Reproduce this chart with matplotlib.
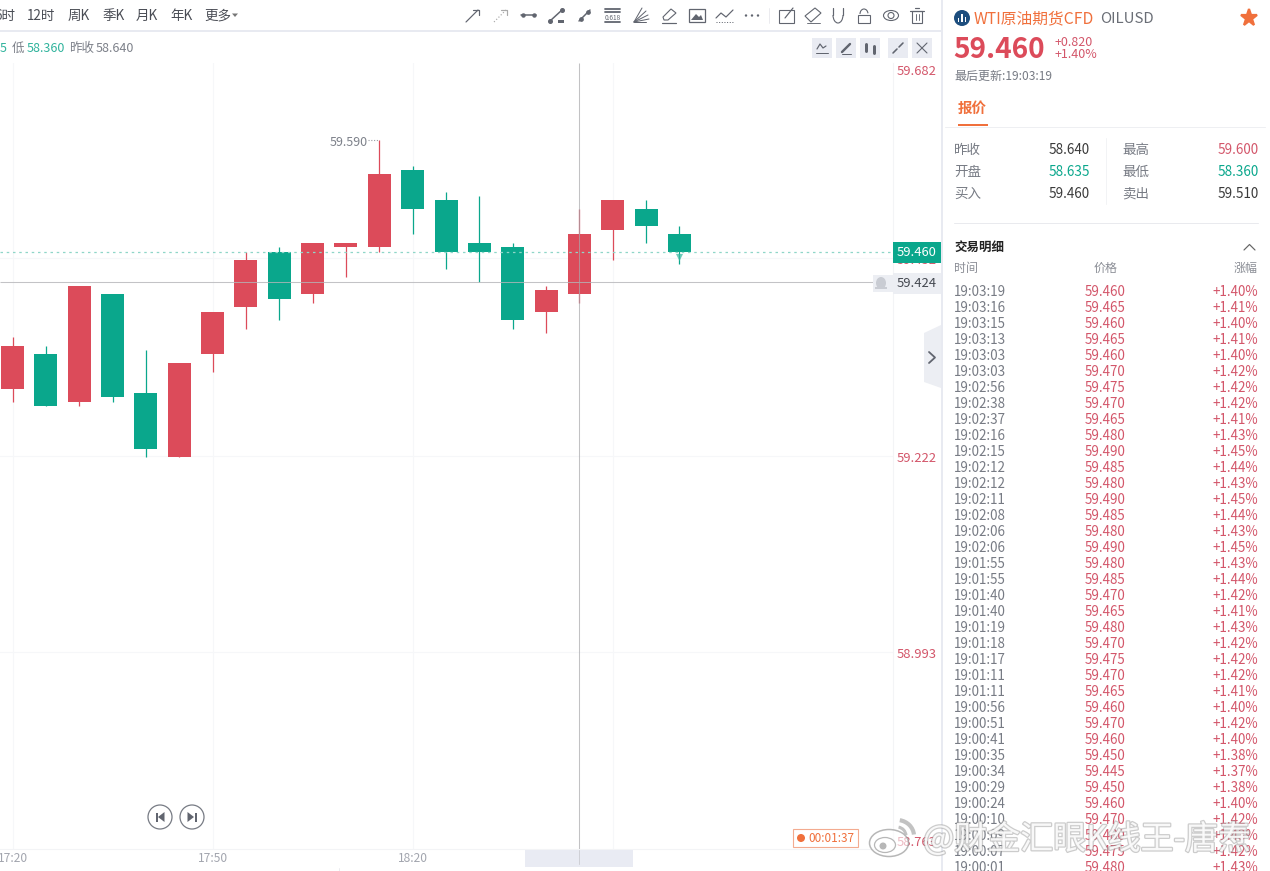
import matplotlib
matplotlib.use('Agg')
import matplotlib.pyplot as plt
import matplotlib.patheffects as pe
from matplotlib.patches import Rectangle, Circle, Polygon, Ellipse, Arc
from matplotlib.transforms import blended_transform_factory

plt.rcParams['font.family'] = ['Noto Sans CJK SC', 'DejaVu Sans']

# ---------- data ----------
opens  = [59.30, 59.34, 59.285, 59.41, 59.295, 59.22, 59.34, 59.395, 59.46, 59.41, 59.465,
          59.465, 59.555, 59.52, 59.47, 59.465, 59.39, 59.41, 59.485, 59.51, 59.48]
closes = [59.35, 59.28, 59.42, 59.29, 59.23, 59.33, 59.39, 59.45, 59.405, 59.47, 59.47,
          59.55, 59.51, 59.46, 59.46, 59.38, 59.415, 59.48, 59.52, 59.49, 59.46]
highs  = [59.36, 59.35, 59.42, 59.41, 59.345, 59.33, 59.39, 59.46, 59.465, 59.47, 59.47,
          59.59, 59.56, 59.53, 59.525, 59.47, 59.42, 59.51, 59.52, 59.52, 59.49]
lows   = [59.285, 59.28, 59.28, 59.285, 59.22, 59.22, 59.32, 59.37, 59.38, 59.40, 59.43,
          59.46, 59.48, 59.44, 59.425, 59.37, 59.365, 59.40, 59.45, 59.47, 59.445]
time_tick_pos = [0, 6, 12, 18]
time_ticks = ['17:20', '17:50', '18:20', '']
price_grid = [59.452, 59.222, 58.993]
price_labels = [59.682, 59.452, 59.222, 58.993, 58.763]
last_price = 59.460
cross_price = 59.424
cross_index = 17
peak_price = 59.590

toolbar_labels = ['6时', '12时', '周K', '季K', '月K', '年K', '更多']

stat_labels_l = ['昨收', '开盘', '买入']
stat_values_l = ['58.640', '58.635', '59.460']
stat_labels_r = ['最高', '最低', '卖出']
stat_values_r = ['59.600', '58.360', '59.510']

trade_times = ['19:03:19', '19:03:16', '19:03:15', '19:03:13', '19:03:03', '19:03:03', '19:02:56',
               '19:02:38', '19:02:37', '19:02:16', '19:02:15', '19:02:12', '19:02:12', '19:02:11',
               '19:02:08', '19:02:06', '19:02:06', '19:01:55', '19:01:55', '19:01:40', '19:01:40',
               '19:01:19', '19:01:18', '19:01:17', '19:01:11', '19:01:11', '19:00:56', '19:00:51',
               '19:00:41', '19:00:35', '19:00:34', '19:00:29', '19:00:24', '19:00:10', '19:00:09',
               '19:00:07', '19:00:01']
trade_prices = ['59.460', '59.465', '59.460', '59.465', '59.460', '59.470', '59.475', '59.470',
                '59.465', '59.480', '59.490', '59.485', '59.480', '59.490', '59.485', '59.480',
                '59.490', '59.480', '59.485', '59.470', '59.465', '59.480', '59.470', '59.475',
                '59.470', '59.465', '59.460', '59.470', '59.460', '59.450', '59.445', '59.450',
                '59.460', '59.470', '59.480', '59.475', '59.480']
trade_pcts = ['+1.40%', '+1.41%', '+1.40%', '+1.41%', '+1.40%', '+1.42%', '+1.42%', '+1.42%',
              '+1.41%', '+1.43%', '+1.45%', '+1.44%', '+1.43%', '+1.45%', '+1.44%', '+1.43%',
              '+1.45%', '+1.43%', '+1.44%', '+1.42%', '+1.41%', '+1.43%', '+1.42%', '+1.42%',
              '+1.42%', '+1.41%', '+1.40%', '+1.42%', '+1.40%', '+1.38%', '+1.37%', '+1.38%',
              '+1.40%', '+1.42%', '+1.43%', '+1.42%', '+1.43%']

# ---------- style ----------
RED = '#dc4b5a'
TXTRED = '#d3566a'
GREEN = '#0aa78c'
ORANGE = '#f0703c'
GREY = '#7d818a'
ICON = '#61656f'
PALE = '#e9ebf2'
W, H = 1270, 871
PX = 72 / 100


def fs(px):
    return px * PX


fig = plt.figure(figsize=(W / 100, H / 100), dpi=100, facecolor='white')

# ---------- chart ----------
ax = fig.add_axes([0, 1 - 849 / H, 893 / W, (849 - 63) / H], zorder=1)
ax.set_xlim(-0.378, 26.407)
ax.set_ylim(58.7629, 59.6800)
ax.set_yticks(price_grid)
ax.set_yticklabels([])
ax.set_xticks(time_tick_pos)
ax.set_xticklabels(time_ticks, fontsize=fs(12), color='#a2a5ae')
ax.tick_params(length=0, pad=2)
ax.grid(True, color='#f6f7f9', lw=0.8)
ax.set_axisbelow(True)
for s in ['top', 'left']:
    ax.spines[s].set_visible(False)
for s in ['right', 'bottom']:
    ax.spines[s].set_color('#f3f4f6')
    ax.spines[s].set_linewidth(0.8)

idx = list(range(len(opens)))
colors = [RED if c > o else GREEN for o, c in zip(opens, closes)]
ax.vlines(idx, lows, highs, colors=colors, lw=0.9, zorder=3)
ax.bar(idx, [abs(c - o) for o, c in zip(opens, closes)],
       bottom=[min(o, c) for o, c in zip(opens, closes)],
       width=23 / 33.34, color=colors, linewidth=0, zorder=4)

ax.axhline(last_price, color='#8fd6c8', lw=0.9, ls=(0, (2, 3)), zorder=5)
ax.hlines(cross_price, -0.378, 25.8, color='#b5b5b8', lw=0.75, alpha=0.8, zorder=6)
ax.vlines(cross_index, 58.7629, 59.6800, color='#a8a8ac', lw=0.75, alpha=0.7, zorder=6)
ax.scatter([idx[-1]], [last_price - 0.006], marker='v', s=26, color='#3dbba4',
           linewidths=0, alpha=0.75, zorder=6)

# peak label
peak_i = highs.index(peak_price)
ax.hlines(peak_price, peak_i - 0.33, peak_i, color='#9a9da5', lw=0.8, ls=(0, (1, 1.5)), zorder=5)
ax.annotate(f'{peak_price:.3f}', (peak_i - 0.36, peak_price), xytext=(0, -2),
            textcoords='offset pixels', ha='right', va='center', fontsize=fs(12.5), color=GREY)

# price axis labels
tr = blended_transform_factory(ax.transAxes, ax.transData)
lo, hi = ax.get_ylim()
for v in price_labels:
    yv = min(max(v, lo + 0.0105), hi - 0.0068)
    ax.annotate(f'{v:.3f}', (1, yv), xycoords=tr, xytext=(4, -2.5), textcoords='offset pixels',
                ha='left', va='center', fontsize=fs(13), color=TXTRED, annotation_clip=False)
ax.annotate(f'{last_price:.3f}', (1, last_price), xycoords=tr, xytext=(4, -1), textcoords='offset pixels',
            ha='left', va='center', fontsize=fs(13), color='white', annotation_clip=False, zorder=9,
            bbox=dict(boxstyle='square,pad=0.31', fc=GREEN, ec='none'))
ax.annotate(f'{cross_price:.3f}', (1, cross_price), xycoords=tr, xytext=(4, -1), textcoords='offset pixels',
            ha='left', va='center', fontsize=fs(13), color='#444850', annotation_clip=False, zorder=9,
            bbox=dict(boxstyle='square,pad=0.31', fc='#eceef3', ec='none'))

# ---------- UI layer in pixel coordinates ----------
ui = fig.add_axes([0, 0, 1, 1], zorder=3)
ui.set_xlim(0, W)
ui.set_ylim(H, 0)
ui.axis('off')
ui.patch.set_alpha(0)


def T(x, y, s, px=13, c='#555', ha='left', va='center', **kw):
    return ui.text(x, y + 0.7, s, fontsize=fs(px), color=c, ha=ha, va=va, **kw)


def L(xs, ys, c=ICON, lw=1.2, **kw):
    ui.plot(xs, ys, color=c, lw=lw * PX, solid_capstyle='round', **kw)


def R(x0, y0, x1, y1, fc=PALE, ec='none', lw=0, **kw):
    ui.add_patch(Rectangle((x0, y0), x1 - x0, y1 - y0, fc=fc, ec=ec, lw=lw, **kw))


# toolbar
tx = [-6, 27, 68, 102, 136, 170, 204]
for x, s in zip(tx, toolbar_labels):
    T(x, 15, s, 13.5, '#4a4d55')
ui.add_patch(Polygon([[232, 13.5], [238, 13.5], [235, 17]], fc='#777', ec='none'))
R(0, 30, 941, 32, fc='#e8eaf1')
# sub header
T(0, 48, '5', 12.5, '#2fb39c')
T(12, 48, '低', 12.5, GREY)
T(27, 48, '58.360', 12.5, '#2fb39c')
T(69, 48, '昨收', 12.5, GREY)
T(96, 48, '58.640', 12.5, GREY)

# drawing tool icons
L([466, 478], [22, 10]); L([473, 479, 479], [10, 10, 15])
L([494, 506], [22, 10], c='#aaa', ls=':'); L([501, 507, 507], [10, 10, 15], c='#aaa')
L([521, 536], [15.5, 15.5], lw=1.5); ui.plot([523, 534], [15.5, 15.5], 'o', ms=2.2, color=ICON)
L([550, 562], [21, 10], lw=1.5); ui.plot([550, 562], [21, 10], 'o', ms=2.6, color=ICON); R(558, 20, 564, 23, fc=ICON)
L([579, 590], [21, 10], lw=1.5); ui.plot([581, 588], [19, 12], 'o', ms=2.4, color=ICON)
for yy in [9, 12, 22]:
    L([605, 620], [yy, yy], lw=1.8)
T(612.5, 17, '0.618', 6.5, ICON, ha='center')
for dx, dy in zip([8, 12, 14, 15, 12], [-14, -11, -7, -3, 0]):
    L([634, 634 + dx], [22, 22 + dy], lw=1.0)
ui.add_patch(Polygon([[663, 17], [671, 9], [676, 13], [668, 20], [664, 20]], fc='none', ec=ICON, lw=0.8))
L([662, 676], [23, 23])
ui.add_patch(Rectangle((689, 9), 16, 13, fc='none', ec=ICON, lw=0.9))
ui.add_patch(Polygon([[691, 20], [696, 14], [699, 17], [701, 15], [703, 20]], fc=ICON, ec='none'))
L([716, 721, 726, 733], [18, 13, 17, 10])
L([716, 734], [22, 22], lw=1, ls=':')
for xx in [746, 752, 758]:
    ui.add_patch(Circle((xx, 15.5), 1.2, fc=ICON, ec='none'))
L([769, 769], [8, 23], c='#e6e7ec', lw=0.8)
ui.add_patch(Rectangle((779, 10), 15, 13, fc='none', ec=ICON, lw=0.8))
L([785, 793], [18, 8])
ui.add_patch(Polygon([[805, 16], [815, 8], [821, 13], [811, 22]], fc='none', ec=ICON, lw=0.8))
L([807, 820], [23, 23], lw=0.9)
ui.add_patch(Arc((838, 15), 10, 16, theta1=0, theta2=180, ec=ICON, lw=0.8))
L([833, 833], [8, 15]); L([843, 843], [8, 15])
ui.add_patch(Rectangle((858, 15), 12, 8, fc='none', ec=ICON, lw=0.8))
ui.add_patch(Arc((864, 14), 8, 10, theta1=180, theta2=350, ec=ICON, lw=0.8))
ui.add_patch(Ellipse((891, 15.5), 15, 10, fc='none', ec=ICON, lw=0.8))
ui.add_patch(Circle((891, 15.5), 3, fc='none', ec=ICON, lw=0.8))
ui.add_patch(Rectangle((912, 11), 10, 12, fc='none', ec=ICON, lw=0.8))
L([910, 924], [11, 11]); L([915, 919], [8.5, 8.5]); L([915.5, 915.5], [14, 20], lw=0.9); L([918.5, 918.5], [14, 20], lw=0.9)

# chart buttons
for cx in [822, 846, 870, 898, 922]:
    ui.add_patch(Rectangle((cx - 10, 38), 20, 20, fc=PALE, ec='none'))
L([817, 820, 823, 826], [49, 44, 48, 46]); L([816, 828], [53, 53], lw=1)
L([842, 850], [52, 44], lw=2.4); L([842, 851], [54, 54], lw=1)
L([866, 866], [44, 51], lw=3); L([874, 874], [46, 53], lw=3)
L([893, 897], [53, 49], lw=1.6); L([899, 903], [47, 43], lw=1.6)
L([917, 927], [43, 53], lw=1.1); L([927, 917], [43, 53], lw=1.1)

# bell
R(873, 275, 893, 292, fc='#eceef3')
ui.add_patch(Ellipse((881, 283), 10, 12, fc='#c9ccd3', ec='none'))
R(875, 287, 887, 289, fc='#c9ccd3')

# nav buttons
for cx in [160, 192]:
    ui.add_patch(Ellipse((cx, 817), 24, 24, fc='white', ec='#777b84', lw=0.9))
R(155.5, 812.5, 157.5, 821.5, fc=ICON)
ui.add_patch(Polygon([[158, 817], [164.5, 812], [164.5, 822]], fc=ICON, ec='none'))
R(194.5, 812.5, 196.5, 821.5, fc=ICON)
ui.add_patch(Polygon([[194, 817], [187.5, 812], [187.5, 822]], fc=ICON, ec='none'))

# crosshair time marker
R(525, 850, 633, 867, fc='#e9ebf3')
L([579, 579], [850, 864], c='#cfd0d6', lw=1)
L([339, 339], [868, 871], c='#e6e7ec', lw=0.8)

# countdown
ui.add_patch(Rectangle((793, 829), 65, 18, fc='white', ec='#f3ab90', lw=0.8))
ui.add_patch(Circle((801, 838), 4, fc=ORANGE, ec='none'))
T(808, 838, '00:01:37', 11.7, ORANGE)

# panel border and collapse tab
R(941, 0, 943, H, fc='#e8eaf1')
ui.add_patch(Polygon([[924, 333], [941, 325], [941, 388], [924, 382]], fc='#eceef3', ec='none'))
L([929, 935, 929], [352, 357.5, 363], c=ICON, lw=1.8)

# ---------- right panel ----------
ui.add_patch(Circle((962, 18), 8, fc='#1d4e7e', ec='none'))
for xx, h_ in zip([958.5, 962, 965.5], [4, 8, 5]):
    R(xx - 0.9, 22 - h_, xx + 0.9, 22, fc='white')
T(974, 18, 'WTI原油期货CFD', 15.7, ORANGE)
T(1100, 18, 'OILUSD', 15, '#6a6e76')
ui.plot([1249], [18.5], marker='*', ms=12.5, color=ORANGE, mec=ORANGE, mew=1.6, mfc=ORANGE)

T(953.5, 49, f'{last_price:.3f}', 28, RED, weight='bold')
T(1055, 42, '+0.820', 12.5, TXTRED)
T(1055, 54, '+1.40%', 12.5, TXTRED)
T(954, 76, '最后更新:19:03:19', 12, '#777b84')
T(958, 108, '报价', 14.5, ORANGE, weight='bold')
R(958, 124, 988, 126, fc=ORANGE)
L([945, 1265], [127, 127], c='#eeeff2', lw=1)

for i, y in enumerate([149, 171, 193]):
    T(954, y, stat_labels_l[i], 13.5, '#777b84')
    T(1122, y, stat_labels_r[i], 13.5, '#777b84')
    lc = {1: GREEN}.get(i, '#3a3a3a')
    rc = {0: TXTRED, 1: GREEN}.get(i, '#3a3a3a')
    T(1090, y, stat_values_l[i], 13.5, lc, ha='right')
    T(1258.5, y, stat_values_r[i], 13.5, rc, ha='right')
L([1106, 1106], [138, 204], c='#f2f3f5', lw=1)
L([954, 1258], [223, 223], c='#e9eaee', lw=1)

T(954, 247, '交易明细', 12.5, '#222', weight='bold')
L([1244, 1249.5, 1255], [250, 244.5, 250], c='#666', lw=1.2)
T(954, 268, '时间', 12, '#8a8d95')
T(1105.5, 268, '价格', 12, '#8a8d95', ha='center')
T(1258, 268, '涨幅', 12, '#8a8d95', ha='right')

for i, (t_, p_, c_) in enumerate(zip(trade_times, trade_prices, trade_pcts)):
    y = 291 + 16 * i
    T(954, y, t_, 13.4, '#777b84')
    T(1105.5, y, p_, 13.4, TXTRED, ha='center')
    T(1258, y, c_, 13.4, TXTRED, ha='right')

# ---------- watermark ----------
wm_fx = [pe.withStroke(linewidth=1.8, foreground='#9a9a9a', alpha=0.5)]
T(923, 839, '@财金汇眼K线王-唐焘', 33, (1, 1, 1, 0.88), path_effects=wm_fx, zorder=20)
G = (0.6, 0.6, 0.6, 0.7)
ui.add_patch(Ellipse((889, 843), 39, 27, fc=(1, 1, 1, 0.6), ec=G, lw=1.1, zorder=20))
ui.add_patch(Ellipse((885, 845), 21, 15, fc=(1, 1, 1, 0.7), ec=G, lw=0.9, zorder=20))
ui.add_patch(Circle((883, 846), 3.5, fc=G, ec='none', zorder=20))
ui.add_patch(Arc((897, 836), 34, 32, theta1=-80, theta2=-5, ec=(0.72, 0.72, 0.72, 0.85), lw=3, zorder=20))
ui.add_patch(Arc((897, 836), 18, 18, theta1=-80, theta2=-5, ec=(0.72, 0.72, 0.72, 0.85), lw=2.2, zorder=20))

fig.savefig('out.png', dpi=100, facecolor='white')
